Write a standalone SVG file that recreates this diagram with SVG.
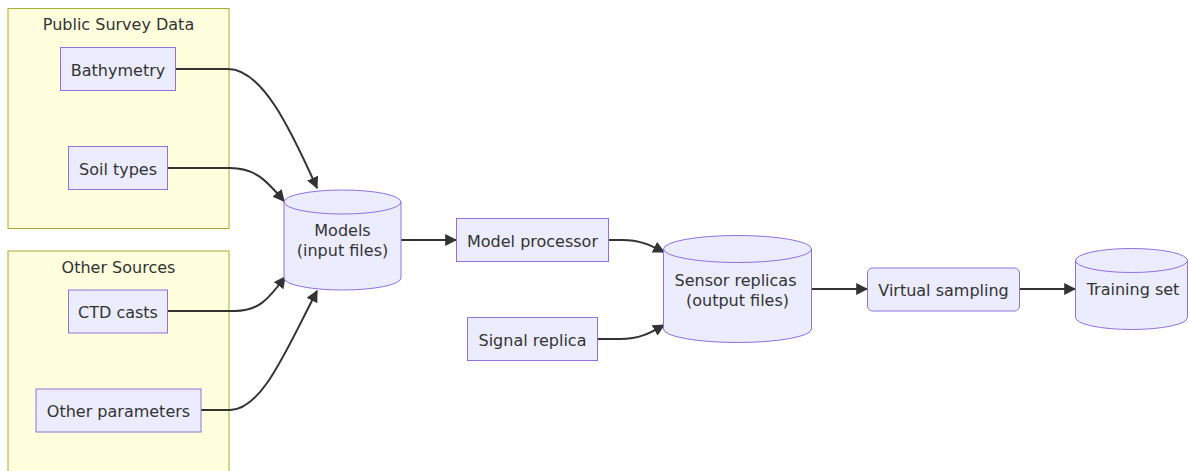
<svg xmlns="http://www.w3.org/2000/svg" width="1188" height="471" viewBox="0 0 1188 471">
<style>
.cluster{fill:#ffffde;stroke:#aaaa33;stroke-width:1}
.node{fill:#ECECFF;stroke:#9370DB;stroke-width:1}
.lbl{font-family:"DejaVu Sans",Verdana,sans-serif;font-size:16px;fill:#333;text-anchor:middle}
.edge{fill:none;stroke:#333;stroke-width:2}
</style>
<defs>
<marker id="arrow" viewBox="0 0 10 10" refX="9" refY="5" markerWidth="12" markerHeight="12" markerUnits="userSpaceOnUse" orient="auto">
<path d="M0,0 L10,5 L0,10 z" fill="#333"/>
</marker>
</defs>
<rect width="1188" height="471" fill="#fff"/>
<g id="cluster-public">
<rect class="cluster" x="8" y="8.5" width="221" height="220"/>
<text class="lbl" x="118.5" y="30">Public Survey Data</text>
</g>
<g id="cluster-other">
<rect class="cluster" x="8" y="251" width="221" height="230"/>
<text class="lbl" x="118.5" y="273">Other Sources</text>
</g>
<g id="edges">
<path class="edge" d="M176,69 H228 C262,69 290,128 317,188" marker-end="url(#arrow)"/>
<path class="edge" d="M168,168 H230 C255,168 266,180 284,201" marker-end="url(#arrow)"/>
<path class="edge" d="M168,311 H235 C258,311 268,300 285,277" marker-end="url(#arrow)"/>
<path class="edge" d="M201,410 H230 C262,410 286,350 317,291" marker-end="url(#arrow)"/>
<path class="edge" d="M401,240 H456" marker-end="url(#arrow)"/>
<path class="edge" d="M608,240 H622 C640,240 650,245 664,252" marker-end="url(#arrow)"/>
<path class="edge" d="M598,339 H620 C640,339 650,333 664,325" marker-end="url(#arrow)"/>
<path class="edge" d="M812,289 H867" marker-end="url(#arrow)"/>
<path class="edge" d="M1020,289 H1075" marker-end="url(#arrow)"/>
</g>
<g id="bathymetry">
<rect class="node" x="60.5" y="47.5" width="115" height="43"/>
<text class="lbl" x="118" y="75.5">Bathymetry</text>
</g>
<g id="soil-types">
<rect class="node" x="68.5" y="146.5" width="99" height="43"/>
<text class="lbl" x="118" y="174.5">Soil types</text>
</g>
<g id="ctd-casts">
<rect class="node" x="68.5" y="290" width="99" height="43"/>
<text class="lbl" x="118" y="318">CTD casts</text>
</g>
<g id="other-parameters">
<rect class="node" x="36" y="389" width="165" height="43"/>
<text class="lbl" x="118.5" y="417">Other parameters</text>
</g>
<g id="models">
<path class="node" d="M284,202 a58.5,12 0 0,0 117,0 a58.5,12 0 0,0 -117,0 l0,76 a58.5,12 0 0,0 117,0 l0,-76"/>
<text class="lbl" x="342.5" y="236">Models</text>
<text class="lbl" x="342.5" y="256">(input files)</text>
</g>
<g id="model-processor">
<rect class="node" x="456.5" y="218.5" width="152" height="43"/>
<text class="lbl" x="532.5" y="246.5">Model processor</text>
</g>
<g id="signal-replica">
<rect class="node" x="467.5" y="317.5" width="130" height="43"/>
<text class="lbl" x="532.5" y="345.5">Signal replica</text>
</g>
<g id="sensor-replicas">
<path class="node" d="M663.5,249 a74,13.5 0 0,0 148,0 a74,13.5 0 0,0 -148,0 l0,80 a74,13.5 0 0,0 148,0 l0,-80"/>
<text class="lbl" x="735.5" y="286">Sensor replicas</text>
<text class="lbl" x="737.5" y="306">(output files)</text>
</g>
<g id="virtual-sampling">
<rect class="node" x="867.5" y="268" width="152" height="43" rx="5" ry="5"/>
<text class="lbl" x="943.5" y="295.5">Virtual sampling</text>
</g>
<g id="training-set">
<path class="node" d="M1075.5,260.5 a56,12 0 0,0 112,0 a56,12 0 0,0 -112,0 l0,57 a56,12 0 0,0 112,0 l0,-57"/>
<text class="lbl" x="1133" y="295">Training set</text>
</g>
</svg>
